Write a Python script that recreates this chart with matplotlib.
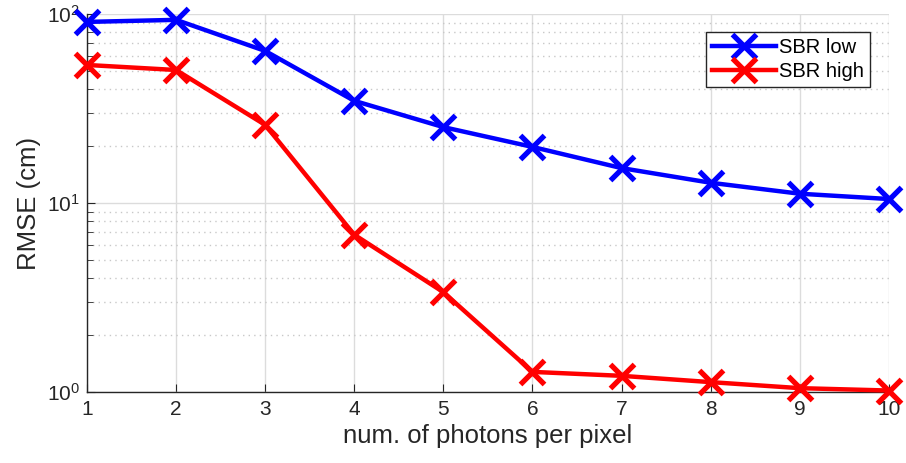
import matplotlib
matplotlib.use("Agg")
import matplotlib.pyplot as plt
from matplotlib.ticker import LogLocator, NullFormatter

photons = [1, 2, 3, 4, 5, 6, 7, 8, 9, 10]
sbr_low = [90.7, 93.0, 63.7, 34.7, 25.2, 19.8, 15.3, 12.8, 11.2, 10.5]
sbr_high = [53.7, 50.5, 25.9, 6.8, 3.38, 1.28, 1.22, 1.13, 1.05, 1.02]
series_labels = ["SBR low", "SBR high"]

plt.rcParams['font.family'] = ['Liberation Sans', 'DejaVu Sans']
plt.rcParams['mathtext.fontset'] = 'custom'
plt.rcParams['mathtext.rm'] = 'Liberation Sans'
plt.rcParams['mathtext.it'] = 'Liberation Sans'
plt.rcParams['mathtext.bf'] = 'Liberation Sans'

fig = plt.figure(figsize=(9.06, 4.63), dpi=100)
ax = fig.add_axes([0.096, 0.153, 0.885, 0.817])

ax.plot(photons, sbr_low, color='#0000ff', lw=3.2, marker='x', ms=17, mew=3.8, label=series_labels[0], clip_on=False, zorder=3)
ax.plot(photons, sbr_high, color='#ff0000', lw=3.2, marker='x', ms=17, mew=3.8, label=series_labels[1], clip_on=False, zorder=3)

ax.set_yscale('log')
ax.set_xlim(1, 10)
ax.set_ylim(1, 100)
ax.set_xticks(photons)
ax.yaxis.set_major_locator(LogLocator(base=10, numticks=10))
ax.yaxis.set_minor_locator(LogLocator(base=10, subs=range(2, 10), numticks=10))
ax.yaxis.set_minor_formatter(NullFormatter())

ax.grid(True, which='major', color='#dcdcdc', lw=1.0, ls='-')
ax.grid(True, which='minor', axis='y', color='#c8c8c8', lw=1.0, ls=(0, (1, 3)))
ax.set_axisbelow(True)

for s in ['top', 'right']:
    ax.spines[s].set_visible(False)
for s in ['left', 'bottom']:
    ax.spines[s].set_color('#262626')
    ax.spines[s].set_linewidth(1.0)

ax.tick_params(which='both', direction='in', colors='#262626', labelsize=15)
ax.tick_params(which='major', length=6)
ax.tick_params(which='minor', length=4)
ax.tick_params(axis='x', pad=6)
ax.tick_params(axis='y', pad=5)

ax.set_xlabel('num. of photons per pixel', fontsize=18.5, color='#262626', labelpad=3)
ax.set_ylabel('RMSE (cm)', fontsize=18.5, color='#262626', labelpad=4)

leg = ax.legend(loc='upper right', bbox_to_anchor=(0.977, 0.952), fontsize=14.5,
                frameon=True, fancybox=False, edgecolor='#262626', handlelength=3.2,
                borderpad=0.3, labelspacing=0.25, handletextpad=0.15, borderaxespad=0)
leg.get_frame().set_linewidth(1.0)
leg.get_frame().set_alpha(1)

fig.savefig('out.png', dpi=100)
